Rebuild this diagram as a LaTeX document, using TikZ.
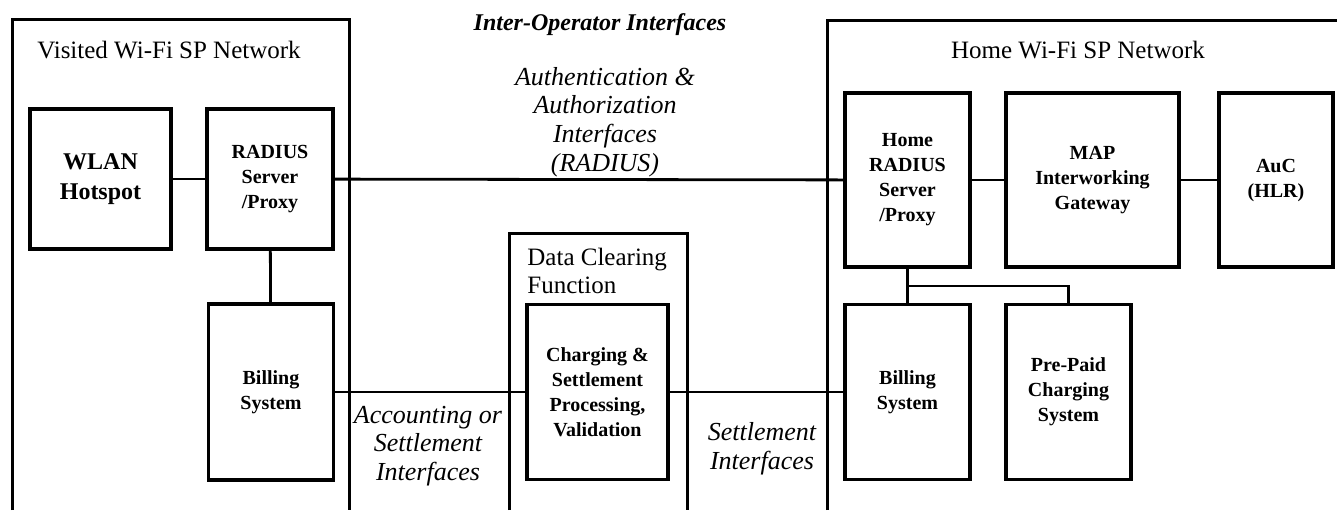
\documentclass[tikz,border=0pt]{standalone}
\usepackage{fontspec}
\setmainfont{Liberation Serif}

\begin{document}
\begin{tikzpicture}[x=0.5pt, y=-0.5pt,
  unit/.style={draw, line width=1.7pt, align=center, inner sep=1pt,
    font=\bfseries\fontsize{10}{12.5}\selectfont},
  net/.style={line width=1.5pt},
  link/.style={line width=1.4pt},
  iflabel/.style={align=center, font=\itshape\fontsize{13}{14.3}\selectfont},
  nettitle/.style={align=left, inner sep=0pt, font=\fontsize{12.5}{14}\selectfont}]
\useasboundingbox (0,0) rectangle (1337,510);

% network areas, open at the bottom
\draw[net] (12,510) -- (12,19) -- (349,19) -- (349,510);
\draw[net] (509,510) -- (509,233) -- (687,233) -- (687,510);
\draw[net] (827,510) -- (827,20) -- (1337,20);

\node[nettitle] (vtitle) at (169,50) {Visited Wi-Fi SP Network};
\node[nettitle] (htitle) at (1078,50) {Home Wi-Fi SP Network};
\node[nettitle, anchor=west] (dtitle) at (527,271) {Data Clearing\\Function};

% visited side
\node[unit, minimum width=70.5pt, minimum height=70pt, font=\bfseries\fontsize{12}{15}\selectfont]
  (hotspot) at (100.5,179) {WLAN\\Hotspot};
\node[unit, minimum width=63pt, minimum height=70pt] (vradius) at (270,179) {RADIUS\\Server\\/Proxy};
\node[unit, minimum width=62.5pt, minimum height=88pt] (vbilling) at (271,392) {Billing\\System};

% clearing
\node[unit, minimum width=70.5pt, minimum height=87.5pt] (charging) at (597.5,392)
  {Charging \&\\Settlement\\Processing,\\Validation};

% home side
\node[unit, minimum width=62.5pt, minimum height=87pt] (hradius) at (907.5,180) {Home\\RADIUS\\Server\\/Proxy};
\node[unit, minimum width=86.5pt, minimum height=87pt] (map) at (1092.5,180) {MAP\\Interworking\\Gateway};
\node[unit, minimum width=57pt, minimum height=87pt] (auc) at (1276,180) {AuC\\(HLR)};
\node[unit, minimum width=62.5pt, minimum height=87.5pt] (hbilling) at (907.5,392) {Billing\\System};
\node[unit, minimum width=62.5pt, minimum height=87.5pt] (prepaid) at (1068.5,392) {Pre-Paid\\Charging\\System};

% interface labels
\node[align=center, font=\bfseries\itshape\fontsize{12}{14}\selectfont] (interop) at (600,25) {Inter-Operator Interfaces};
\node[iflabel] (auth) at (605,122) {Authentication \&\\Authorization\\Interfaces\\(RADIUS)};
\node[iflabel] (acct) at (428,446) {Accounting or\\Settlement\\Interfaces};
\node[iflabel] (settle) at (762,449) {Settlement\\Interfaces};

\path[link]
(hotspot) edge (vradius)
(vradius) edge (hradius)
          edge (vbilling)
(vbilling) edge (charging)
(charging) edge (hbilling)
(hradius) edge (map)
          edge (hbilling)
(map) edge (auc);
\coordinate (split) at (907.5,286);
\draw[link] (split) -| (prepaid);
\end{tikzpicture}
\end{document}
